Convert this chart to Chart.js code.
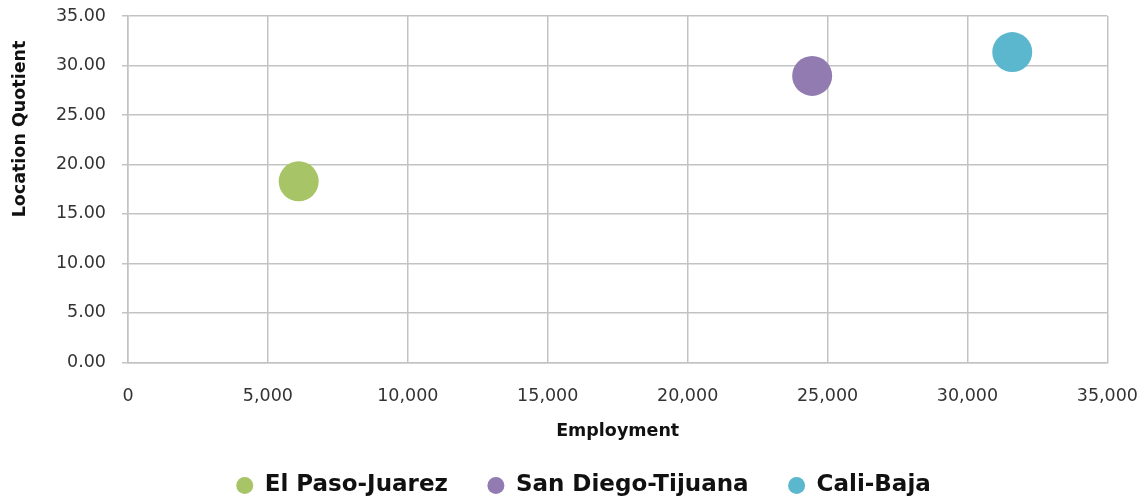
<!DOCTYPE html>
<html>
<head>
<meta charset="utf-8">
<script src="https://cdn.jsdelivr.net/npm/chart.js@4/dist/chart.umd.min.js"></script>
<style>
  html, body { margin: 0; padding: 0; background: #fff; }
  #wrap { width: 1146px; height: 502px; position: relative; }
</style>
</head>
<body>
<div id="wrap"><canvas id="bubbleChart" width="1146" height="502"></canvas></div>
<script>
// values
const regions = ['El Paso-Juarez', 'San Diego-Tijuana', 'Cali-Baja'];
const employment = [6100, 24450, 31600];
const locationQuotient = [18.3, 28.95, 31.35];
const bubbleRadius = [20, 20, 20];
const regionColors = ['rgb(167,196,103)', 'rgb(146,123,177)', 'rgb(90,183,205)'];

const xTicks = [0, 5000, 10000, 15000, 20000, 25000, 30000, 35000];
const yTicks = [0, 5, 10, 15, 20, 25, 30, 35];

const FONT = "'DejaVu Sans', 'Open Sans', sans-serif";
const gridColor = '#c3c3c3';

// y axis title sits higher than the axis middle in the original
const yTitlePlugin = {
    id: 'yTitle',
    afterDraw(chart) {
        const ctx = chart.ctx;
        ctx.save();
        ctx.translate(20, 129);
        ctx.rotate(-Math.PI / 2);
        ctx.font = 'bold 17.5px ' + FONT;
        ctx.fillStyle = '#111';
        ctx.textAlign = 'center';
        ctx.textBaseline = 'middle';
        ctx.fillText('Location Quotient', 0, 0);
        ctx.restore();
    }
};

const datasets = regions.map((name, i) => ({
    label: name,
    data: [{ x: employment[i], y: locationQuotient[i], r: bubbleRadius[i] }],
    backgroundColor: regionColors[i],
    borderColor: regionColors[i],
    borderWidth: 0,
    hoverRadius: 0
}));

const ctx = document.getElementById('bubbleChart').getContext('2d');
new Chart(ctx, {
    type: 'bubble',
    data: { datasets: datasets },
    plugins: [yTitlePlugin],
    options: {
        responsive: false,
        animation: false,
        layout: {
            autoPadding: false,
            padding: { top: 16, right: 0, left: 21, bottom: -4.9 }
        },
        plugins: {
            tooltip: { enabled: false },
            legend: {
                position: 'bottom',
                labels: {
                    usePointStyle: true,
                    pointStyle: 'circle',
                    pointStyleWidth: 17,
                    boxHeight: 12,
                    padding: 39.5,
                    color: '#111',
                    font: { family: FONT, size: 23, weight: 'bold' }
                }
            }
        },
        scales: {
            x: {
                type: 'linear',
                min: xTicks[0],
                max: xTicks[xTicks.length - 1],
                afterBuildTicks: s => { s.ticks = xTicks.map(v => ({ value: v })); },
                grid: { color: gridColor, lineWidth: 1.5, tickLength: 16, tickColor: 'rgba(0,0,0,0)' },
                border: { color: gridColor, width: 1.5 },
                ticks: {
                    padding: 8,
                    color: '#333',
                    font: { family: FONT, size: 17.5 },
                    callback: v => v.toLocaleString('en-US')
                },
                title: {
                    display: true,
                    text: 'Employment',
                    color: '#111',
                    padding: { top: 6, bottom: -8 },
                    font: { family: FONT, size: 17.5, weight: 'bold' }
                }
            },
            y: {
                type: 'linear',
                min: yTicks[0],
                max: yTicks[yTicks.length - 1],
                afterBuildTicks: s => { s.ticks = yTicks.map(v => ({ value: v })); },
                afterFit: s => {
                    s.width = 107;
                    // let the 35.00 label hang over the top edge like the original
                    s.paddingTop = 0;
                    s.paddingBottom = 0;
                },
                grid: { color: gridColor, lineWidth: 1.5, tickLength: 6 },
                border: { color: gridColor, width: 1.5 },
                ticks: {
                    padding: 16,
                    color: '#333',
                    font: { family: FONT, size: 17.5 },
                    callback: v => v.toFixed(2)
                }
            }
        }
    }
});
</script>
</body>
</html>
